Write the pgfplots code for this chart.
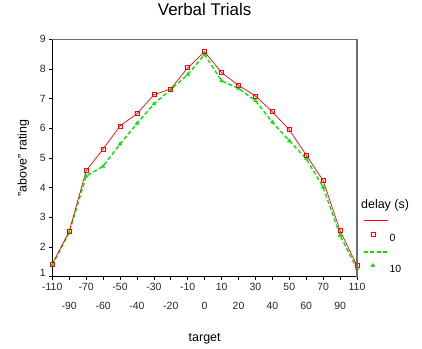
\documentclass[border=0pt]{standalone}
\usepackage{fontspec}
\setmainfont{Liberation Sans}
\usepackage{pgfplots}
\pgfplotsset{compat=1.18}
\definecolor{myred}{RGB}{255,0,0}
\definecolor{mygreen}{RGB}{0,230,0}
\definecolor{framegray}{RGB}{110,110,110}
\pgfplotsset{
  myline legend/.style={legend image code/.code={\path[draw=none,fill=none] (0bp,-4bp) rectangle (22bp,4bp); \draw[##1, draw=#1, color=#1] (0bp,0.4bp) -- (24bp,0.4bp);}},
  mymark legend/.style={legend image code/.code={\path[draw=none,fill=none] (0bp,-4bp) rectangle (22bp,4bp); \draw[##1, draw=#1] plot coordinates {(9bp,0bp)};}},
}
\begin{document}
\begin{tikzpicture}
\useasboundingbox (0,0) rectangle (422bp,349bp);
\begin{axis}[
  name=ax,
  at={(52.3bp,72.3bp)}, anchor=south west,
  scale only axis, width=304.7bp, height=237.4bp,
  xmin=0, xmax=18, ymin=1, ymax=9,
  clip=false,
  axis x line*=bottom, axis y line*=left,
  axis line style={-, black},
  x axis line style={line width=1.1pt},
  y axis line style={line width=0.7pt},
  xtick={0,2,...,18},
  xticklabels={-110,-70,-50,-30,-10,10,30,50,70,110},
  extra x ticks={1,3,...,17},
  extra x tick labels={-90,-60,-40,-20,0,20,40,60,90},
  extra x tick style={grid=none, xticklabel style={yshift=-19bp}},
  ytick={2,...,9},
  extra y ticks={1},
  extra y tick style={grid=none, yticklabel style={yshift=4bp}},
  tick align=outside, major tick length=3bp,
  tick style={black, line width=0.6pt},
  ticklabel style={font=\fontsize{10.5}{12}\selectfont, text=black!85},
  /pgf/number format/assume math mode=true,
  title={Verbal Trials},
  title style={at={(axis description cs:0.5,1.0994)}, anchor=center, font=\fontsize{17}{20}\selectfont},
  xlabel={target},
  xlabel style={at={(axis description cs:0.5,-0.2624)}, anchor=center, font=\fontsize{12.5}{14}\selectfont},
  ylabel={"above" rating},
  ylabel style={at={(axis description cs:-0.0952,0.5)}, anchor=center, font=\fontsize{12.5}{14}\selectfont},
  legend style={draw=none, fill=none, at={(axis description cs:1.0197,0.2515)}, anchor=north west,
    inner sep=0pt, row sep=5bp, font=\fontsize{10.5}{12}\selectfont, nodes={inner sep=1bp}},
  legend cell align=left,
]
\addplot[mygreen, line width=1.4pt, dash pattern=on 4bp off 2.5bp, mark=triangle*, mark size=2.2bp,
  mark options={solid, line width=0.3pt}, forget plot] coordinates {
(0,1.39) (1,2.49) (2,4.39) (3,4.72) (4,5.47) (5,6.16) (6,6.82) (7,7.31) (8,7.81) (9,8.49)
(10,7.60) (11,7.35) (12,6.93) (13,6.21) (14,5.58) (15,4.98) (16,4.02) (17,2.39) (18,1.27)};
\addplot[myred, line width=0.7pt, mark=square, mark size=2bp, mark options={solid}, forget plot] coordinates {
(0,1.43) (1,2.53) (2,4.57) (3,5.30) (4,6.08) (5,6.49) (6,7.13) (7,7.33) (8,8.04) (9,8.58)
(10,7.88) (11,7.45) (12,7.09) (13,6.56) (14,5.95) (15,5.10) (16,4.24) (17,2.55) (18,1.37)};
\addlegendimage{myred, line width=0.9pt, myline legend=myred}
\addlegendentry{}
\addlegendimage{only marks, myred, mark=square, mark size=2bp, mymark legend=myred}
\addlegendentry[yshift=-4bp]{0}
\addlegendimage{mygreen, line width=1.4pt, dash pattern=on 4bp off 2.5bp, myline legend=mygreen}
\addlegendentry{}
\addlegendimage{only marks, mygreen, fill=mygreen, mark=triangle*, mark size=2.2bp, mymark legend=mygreen}
\addlegendentry[yshift=-4bp]{10}
\end{axis}
\draw[framegray, line width=1.2pt] (ax.north west) -- (ax.north east) -- (ax.south east);
\node[anchor=west, inner sep=0pt, font=\fontsize{12.5}{14}\selectfont] at (361bp,143.3bp) {delay (s)};
\end{tikzpicture}
\end{document}
